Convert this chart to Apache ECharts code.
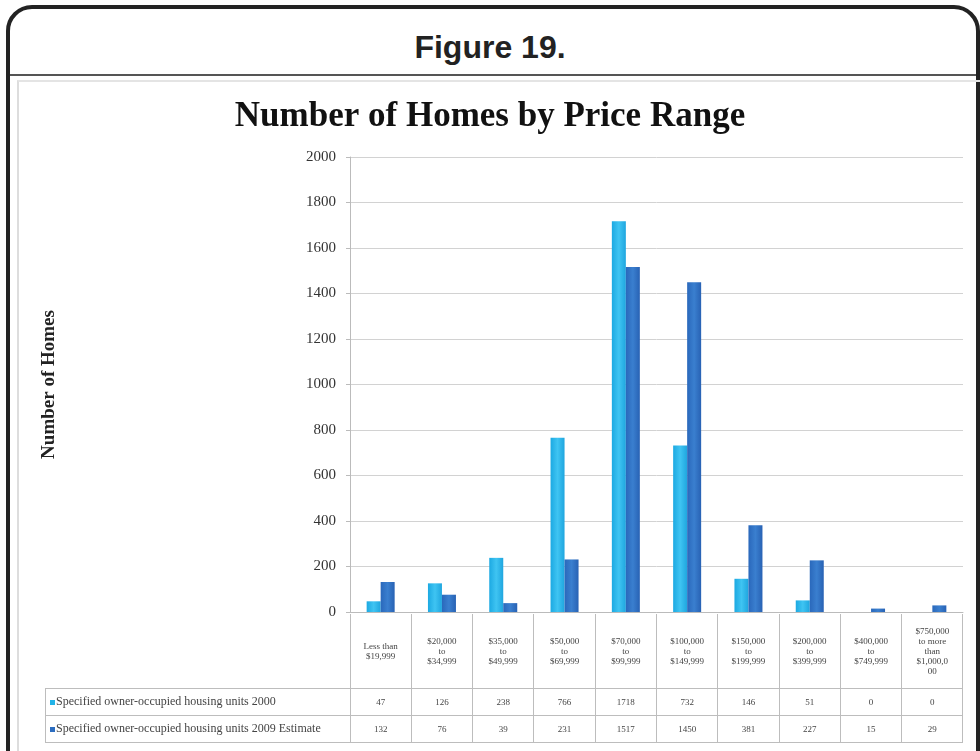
<!DOCTYPE html>
<html>
<head>
<meta charset="utf-8">
<script src="https://cdn.jsdelivr.net/npm/echarts@6/dist/echarts.min.js"></script>
<style>
  html, body { margin: 0; padding: 0; background: #fff; }
  #page { position: relative; width: 980px; height: 751px; overflow: hidden; background: #fff; }
  .frame { position: absolute; left: 6px; top: 5px; width: 966px; height: 800px;
    border: 4px solid #232323; border-radius: 26px; }
  .divider { position: absolute; left: 10px; top: 74px; width: 966px; height: 2px; background: #555; }
  .inner { position: absolute; left: 17px; top: 80px; width: 980px; height: 700px;
    border-left: 2px solid #ddd; border-top: 2px solid #e4e4e4; }
  .fig { position: absolute; left: 0; top: 29px; width: 980px; text-align: center;
    font-family: "Liberation Sans", Arial, sans-serif; font-weight: bold; font-size: 32px; color: #222; }
  #chart { position: absolute; left: 0; top: 0; width: 980px; height: 751px; }
  #tbl { position: absolute; left: 45px; top: 614px; border-collapse: collapse; table-layout: fixed;
    font-family: "Liberation Serif", "Times New Roman", serif; font-size: 9px; color: #444; }
  #tbl td { border: 1px solid #bdbdbd; text-align: center; padding: 0; }
  #tbl td.nob { border: none; border-right: 1px solid #bdbdbd; }
  #tbl td.name { text-align: left; padding-left: 4px; font-size: 12px; white-space: nowrap; overflow: hidden; }
  .key { display: inline-block; width: 5px; height: 5px; margin-right: 1px; vertical-align: middle; }
</style>
</head>
<body>
<div id="page">
  <div class="frame"></div>
  <div class="divider"></div>
  <div class="inner"></div>
  <div class="fig">Figure 19.</div>
  <div id="chart"></div>
  <table id="tbl"></table>
</div>
<script>
var categories = [
  ['Less than', '$19,999'],
  ['$20,000', 'to', '$34,999'],
  ['$35,000', 'to', '$49,999'],
  ['$50,000', 'to', '$69,999'],
  ['$70,000', 'to', '$99,999'],
  ['$100,000', 'to', '$149,999'],
  ['$150,000', 'to', '$199,999'],
  ['$200,000', 'to', '$399,999'],
  ['$400,000', 'to', '$749,999'],
  ['$750,000', 'to more', 'than', '$1,000,0', '00']
]
var seriesNames = [
  'Specified owner-occupied housing units 2000',
  'Specified owner-occupied housing units 2009 Estimate'
]
var units2000 = [47, 126, 238, 766, 1718, 732, 146, 51, 0, 0]
var units2009 = [132, 76, 39, 231, 1517, 1450, 381, 227, 15, 29]
var yTicks = [0, 200, 400, 600, 800, 1000, 1200, 1400, 1600, 1800, 2000]

var colors = ['#22b3e8', '#2c6dc0']

// plot area in px
var gridLeft = 350, gridRight = 17, gridTop = 157, gridBottom = 139
var colWidth = (980 - gridLeft - gridRight) / categories.length

var chart = echarts.init(document.getElementById('chart'))
chart.setOption({
  animation: false,
  title: {
    text: 'Number of Homes by Price Range',
    left: 'center',
    top: 94,
    textStyle: {
      fontFamily: 'Liberation Serif',
      fontWeight: 'bold',
      fontSize: 35,
      color: '#111'
    }
  },
  grid: {
    left: gridLeft,
    right: gridRight,
    top: gridTop,
    bottom: gridBottom
  },
  xAxis: {
    type: 'category',
    data: categories.map(function (c) { return c.join(' ') }),
    axisLine: { lineStyle: { color: '#bbb' } },
    axisTick: { show: false },
    axisLabel: { show: false }
  },
  yAxis: {
    type: 'value',
    min: yTicks[0],
    max: yTicks[yTicks.length - 1],
    interval: 200,
    name: 'Number of Homes',
    nameLocation: 'middle',
    nameGap: 291,
    nameTextStyle: {
      fontFamily: 'Liberation Serif',
      fontWeight: 'bold',
      fontSize: 19,
      color: '#222'
    },
    axisLine: { show: true, lineStyle: { color: '#bbb' } },
    axisTick: { show: true, length: 4, lineStyle: { color: '#bbb' } },
    axisLabel: {
      margin: 14,
      fontFamily: 'Liberation Serif',
      fontSize: 15,
      color: '#333',
      formatter: function (v) { return String(v) }
    },
    splitLine: { lineStyle: { color: '#d2d2d2', width: 1 } }
  },
  series: [{
    name: seriesNames[0],
    type: 'bar',
    barWidth: 14,
    barGap: '0%',
    data: units2000,
    itemStyle: {
      color: new echarts.graphic.LinearGradient(0, 0, 1, 0, [
        { offset: 0, color: '#1ca9e2' },
        { offset: 0.5, color: '#3fc4f2' },
        { offset: 1, color: '#1fa6df' }
      ])
    }
  }, {
    name: seriesNames[1],
    type: 'bar',
    barWidth: 14,
    data: units2009,
    itemStyle: {
      color: new echarts.graphic.LinearGradient(0, 0, 1, 0, [
        { offset: 0, color: '#2a68bb' },
        { offset: 0.5, color: '#3a7fcf' },
        { offset: 1, color: '#2862b4' }
      ])
    }
  }]
})

// data table under the plot, aligned with the category axis
var tbl = document.getElementById('tbl')
var html = '<tr style="height:74px"><td class="nob" style="width:' + (gridLeft - 45 - 1) + 'px"></td>'
categories.forEach(function (c) {
  html += '<td style="width:' + (colWidth - 1).toFixed(1) + 'px;line-height:10px;border-top:none">' + c.join('<br>') + '</td>'
})
html += '</tr>'
;[units2000, units2009].forEach(function (vals, i) {
  html += '<tr style="height:27px"><td class="name"><span class="key" style="background:' + colors[i] + '"></span>' + seriesNames[i] + '</td>'
  vals.forEach(function (v) { html += '<td>' + v + '</td>' })
  html += '</tr>'
})
tbl.innerHTML = html
</script>
</body>
</html>
